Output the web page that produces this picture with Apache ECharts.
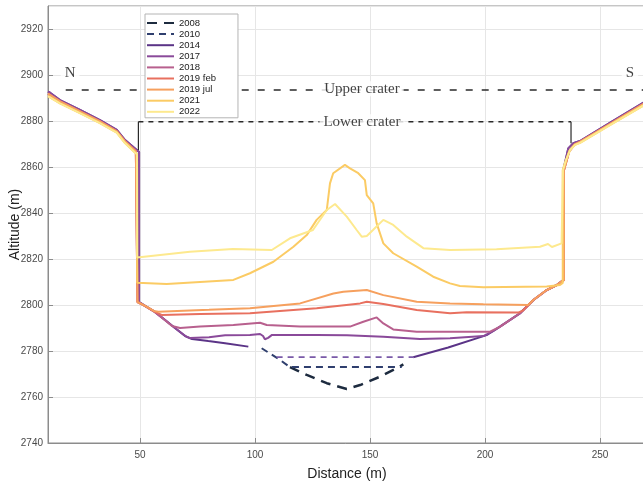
<!DOCTYPE html>
<html><head><meta charset="utf-8">
<script src="https://cdn.jsdelivr.net/npm/echarts@6/dist/echarts.min.js"></script>
<style>html,body{margin:0;padding:0;background:#fff}#c{width:643px;height:482px}</style>
</head><body><div id="c"></div>
<script>
// ---- tick labels / axis ranges ----
const xRange = [10, 270];
const yRange = [2740, 2930];
const yStep = 20;

// ---- profiles (distance m, altitude m) ----
const rimNorthA = [[10,2892.8],[10.9,2892.3],[15.2,2889.1],[23.9,2884.8],[32.6,2880.4],[39.9,2876.1],[43.5,2871.7],[48.6,2867.4],[49.6,2866.5]];
const rimNorthB = [[10,2891.9],[15.2,2888.5],[23.9,2884.2],[32.6,2879.8],[39.9,2875.5],[43.5,2871.1],[48.2,2866.9],[48.9,2866.1]];
const rimNorthC = [[10,2890.8],[15.2,2887.7],[23.9,2883.4],[32.6,2879.1],[39.9,2874.9],[43.5,2870.4],[47.8,2866.3],[48.7,2865.6]];
const rimSouthA = [[234.0,2858.7],[236.2,2868.1],[238.4,2870.3],[241.3,2871.3],[255,2879.6],[270,2888.7]];
const rimSouthB = [[234.3,2858.5],[236.6,2866.8],[239,2869.8],[241.3,2870.9],[255,2879.1],[270,2888.1]];
const rimSouthC = [[233.9,2858.7],[235.2,2863],[237,2867.4],[239.1,2869.6],[241.3,2870.5],[255,2878.6],[270,2887.4]];

const floor2014a = [[49.6,2801.3],[52.2,2799.6],[56.5,2797],[60.9,2793.5],[65.2,2790],[69.6,2786.5],[72.6,2785.2],[79.7,2784.3],[87,2783.4],[97.1,2781.9]];
const floor2014b = [[168.8,2777.3],[184,2781.5],[200.7,2786.9],[206.5,2790.6],[215.2,2796.4],[221,2802.2],[226.8,2806.5],[231.2,2808.7],[234,2810.9]];
const gap2014 = [[109.4,2777.3],[168.8,2777.3]];
const floor2017 = [[49.6,2801.3],[52.2,2799.6],[56.5,2797],[60.9,2793.5],[65.2,2790],[69.6,2786.6],[71.7,2785.6],[80,2786],[87,2786.8],[97.8,2787],[102.2,2787.4],[103.5,2786.5],[104.3,2785.1],[105.7,2785.7],[107.4,2787],[126.8,2787],[140,2786.8],[155.8,2786.2],[171.7,2785.2],[184.8,2785.5],[199.3,2786.5],[203.5,2788.6],[206.7,2790.7],[215.4,2796.5],[221.2,2802.3],[227,2806.6],[231.4,2808.8],[234.2,2811],[234.2,2858.6]];
const floor2018 = [[48.9,2801.3],[52.2,2799.5],[56.5,2796.9],[60.9,2793.4],[63.9,2790.9],[67.4,2790],[76.1,2790.6],[90.6,2791.3],[102.2,2792.3],[105.1,2791.3],[119.6,2790.6],[141.3,2790.6],[147.1,2792.7],[152.9,2794.6],[155.8,2792],[160.1,2789.4],[170.3,2788.4],[184.8,2788.4],[202.2,2788.4],[206.4,2790.5],[215.2,2796.4],[221,2802.1],[226.8,2806.4],[231.2,2808.6],[234.3,2810.8],[234.3,2858.5]];
const floor2019feb = [[48.9,2801.3],[52.2,2799.6],[56.5,2797],[59.4,2795.7],[76.1,2796.1],[97.8,2796.4],[126.8,2798.6],[145.7,2800.7],[148.6,2801.4],[155.8,2800.4],[170.3,2797.8],[184.8,2796.4],[192,2796.8],[214.5,2796.7],[216.5,2797.6],[221,2802.2],[226.8,2806.5],[231.2,2808.7],[234.3,2810.9],[234.3,2858.5]];
const floor2019jul = [[48.9,2801.3],[52.2,2799.6],[56,2797.4],[58,2797.1],[80,2797.9],[97.8,2798.6],[119.6,2800.7],[134.1,2805],[138.4,2805.8],[148.6,2806.5],[155.8,2804.3],[170.3,2801.4],[184.8,2800.7],[199.3,2800.3],[218.8,2800],[221,2802.2],[226.8,2806.5],[231.2,2808.7],[234.3,2810.9],[234.3,2858.5]];
const floor2021 = [[48.8,2809.7],[61.6,2809.1],[90.6,2810.9],[97.8,2813.8],[108,2818.8],[116.7,2825.3],[122.5,2830.4],[126.8,2837],[131.2,2841.3],[132.6,2852.9],[134,2857.3],[139.1,2860.9],[141.3,2859.4],[144.9,2857.3],[147.8,2854.3],[148.6,2847.8],[151.4,2844.2],[152.9,2835.5],[155.8,2826.8],[160.1,2822.5],[170.3,2816.7],[177.5,2812.3],[184.8,2809.4],[189.1,2808.3],[199.3,2807.7],[226.8,2808],[232.6,2808.7],[233.8,2809.6],[233.8,2858.7]];
const floor2022 = [[48.8,2820.7],[71.7,2823.2],[90.4,2824.3],[107.3,2823.9],[115.2,2829],[125.2,2832.6],[131.2,2841.3],[134.8,2843.9],[139.9,2838.4],[144.2,2832.6],[146.4,2829.7],[148.6,2830],[151.3,2832.6],[155.8,2837],[160.1,2834.8],[166,2829.7],[173.2,2824.7],[184.8,2823.9],[205,2824.2],[223.9,2825.3],[227.4,2826.5],[229.1,2825.2],[233.3,2826.8],[233.9,2827],[233.9,2858.7]];
const profile2008 = [[115.2,2773],[122.5,2769.6],[131.2,2766],[139.9,2763.5],[145.7,2765.2],[154.3,2768.8],[161.6,2772.5],[164.5,2774.2]];
const profile2010 = [[102.9,2781.2],[110.9,2776.1],[115.2,2773],[163.8,2773]];

// ---- crater levels & annotations ----
const upperCrater = {level: 2893.5, from: 17.7, to: 270};
const lowerCrater = {level: 2879.7, from: 49.3, to: 237.4, leftFoot: 2867.4, rightFoot: 2870.3};
const annotations = [
  {name: 'N', value: [19.6, 2900.9]},
  {name: 'S', value: [263, 2900.9]},
  {name: 'Upper crater', value: [146.5, 2894]},
  {name: 'Lower crater', value: [146.5, 2879.7]}
];

const names = ['2008','2010','2014','2017','2018','2019 feb','2019 jul','2021','2022'];
const colors = {'2008':'#1d2b3f','2010':'#2f3f6e','2014':'#5b3487','2017':'#8a4a9a','2018':'#b8608e','2019 feb':'#e8705f','2019 jul':'#f6a05e','2021':'#fbcb64','2022':'#fde98e'};
const GAP = ['-','-'];

function line(name, data, color, extra) {
  return Object.assign({
    type: 'line', name: name, data: data, symbol: 'none', showSymbol: false,
    connectNulls: false, animation: false, silent: true,
    lineStyle: {color: color, width: 2}, itemStyle: {color: color}
  }, extra || {});
}

const series = [
  line('2008', profile2008, colors['2008'], {lineStyle: {color: colors['2008'], width: 2.5, type: [10, 7]}}),
  line('2010', profile2010, colors['2010'], {lineStyle: {color: colors['2010'], width: 2, type: [7, 5]}}),
  line('2014', rimNorthA.concat(floor2014a, [GAP], floor2014b, rimSouthA), colors['2014']),
  line('gap2014', gap2014, '#7a5aa8', {lineStyle: {color: '#7a5aa8', width: 1.8, type: [6, 5]}}),
  line('2017', rimNorthA.concat(floor2017, rimSouthA), colors['2017']),
  line('2018', rimNorthB.concat(floor2018, rimSouthB), colors['2018']),
  line('2019 feb', rimNorthB.concat(floor2019feb, rimSouthB), colors['2019 feb']),
  line('2019 jul', rimNorthB.concat(floor2019jul, rimSouthB), colors['2019 jul']),
  line('2021', rimNorthC.concat(floor2021, rimSouthC), colors['2021']),
  line('2022', rimNorthC.concat(floor2022, rimSouthC), colors['2022']),
  line('upper', [[upperCrater.from, upperCrater.level],[upperCrater.to, upperCrater.level]], '#2a2a2a',
       {lineStyle: {color: '#2a2a2a', width: 1.6, type: [7, 9]}}),
  line('lower', [[lowerCrater.from, lowerCrater.level],[lowerCrater.to, lowerCrater.level]], '#2a2a2a',
       {lineStyle: {color: '#2a2a2a', width: 1.5, type: [5, 5]}}),
  line('bracket', [[lowerCrater.from, lowerCrater.level],[lowerCrater.from, lowerCrater.leftFoot], GAP,
                   [lowerCrater.to, lowerCrater.level],[lowerCrater.to, lowerCrater.rightFoot]], '#2a2a2a',
       {lineStyle: {color: '#2a2a2a', width: 1.2}}),
  {
    type: 'scatter', name: 'text', data: annotations, symbolSize: 1, animation: false, silent: true, z: 5,
    itemStyle: {color: 'rgba(0,0,0,0)'},
    label: {show: true, position: 'inside', formatter: '{b}', color: '#111', fontSize: 15,
            fontFamily: 'Liberation Serif, Times New Roman, serif', backgroundColor: '#fff', padding: [0, 4]}
  }
];

const chart = echarts.init(document.getElementById('c'), null, {renderer: 'canvas'});
chart.setOption({
  animation: false,
  backgroundColor: '#fff',
  grid: {left: 48, top: 6, width: 598, height: 437, show: true, borderColor: '#8c8c8c', borderWidth: 1,
         backgroundColor: '#fff', containLabel: false, outerBoundsMode: 'none'},
  legend: {
    data: names, orient: 'vertical', left: 145, top: 14,
    itemWidth: 27, itemHeight: 10, itemGap: 1.1, padding: [4, 22, 1, 1],
    itemStyle: {opacity: 0},
    backgroundColor: '#fff', borderColor: '#b4b4b4', borderWidth: 1, borderRadius: 0,
    textStyle: {fontSize: 9.5, color: '#222', lineHeight: 10, fontFamily: 'Liberation Sans, Arial, sans-serif'},
    selectedMode: false
  },
  xAxis: {
    type: 'value', min: xRange[0], max: xRange[1], splitNumber: 5,
    name: 'Distance (m)', nameLocation: 'middle', nameGap: 24, nameMoveOverlap: false,
    nameTextStyle: {fontSize: 14, color: '#222', fontFamily: 'Liberation Sans, Arial, sans-serif'},
    axisLine: {show: true, lineStyle: {color: '#8c8c8c', width: 1}},
    axisTick: {show: true, inside: true, length: 5, lineStyle: {color: '#8c8c8c'}},
    axisLabel: {showMinLabel: false, showMaxLabel: false, fontSize: 10, color: '#4a4a4a', margin: 7,
                formatter: function (v) { return String(v); },
                fontFamily: 'Liberation Sans, Arial, sans-serif'},
    splitLine: {show: true, lineStyle: {color: '#e6e6e6', width: 1}}
  },
  yAxis: {
    type: 'value', min: yRange[0], max: yRange[1], interval: yStep,
    name: 'Altitude (m)', nameLocation: 'middle', nameGap: 26, nameRotate: 90, nameMoveOverlap: false,
    nameTextStyle: {fontSize: 14, color: '#222', fontFamily: 'Liberation Sans, Arial, sans-serif'},
    axisLine: {show: true, lineStyle: {color: '#8c8c8c', width: 1}},
    axisTick: {show: true, inside: true, length: 5, lineStyle: {color: '#8c8c8c'}},
    axisLabel: {showMaxLabel: false, fontSize: 10, color: '#4a4a4a', margin: 5,
                formatter: function (v) { return String(v); },
                fontFamily: 'Liberation Sans, Arial, sans-serif'},
    splitLine: {show: true, lineStyle: {color: '#e6e6e6', width: 1}}
  },
  series: series
});
</script>
</body></html>
